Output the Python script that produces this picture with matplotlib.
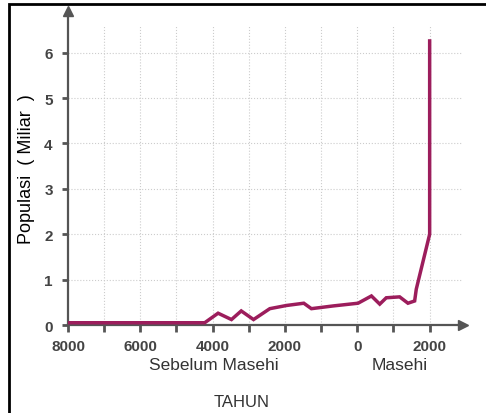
import numpy as np
import matplotlib.pyplot as plt
from matplotlib.patches import Rectangle

# tahun (negatif = Sebelum Masehi), populasi dalam miliar
tahun = [-8000, -4220, -3850, -3480, -3210, -2870, -2420, -1960, -1480, -1270,
         -670, 20, 390, 620, 800, 1170, 1400, 1585, 1630, 2000, 2000]
populasi = [0.05, 0.05, 0.26, 0.12, 0.31, 0.12, 0.36, 0.43, 0.48, 0.36,
            0.42, 0.48, 0.64, 0.46, 0.60, 0.62, 0.48, 0.53, 0.79, 2.0, 6.26]

xticks = [-8000, -6000, -4000, -2000, 0, 2000]
xticklabels = ['8000', '6000', '4000', '2000', '0', '2000']
yticks = [0, 1, 2, 3, 4, 5, 6]

plt.rcParams['font.family'] = ['Liberation Sans', 'DejaVu Sans']

fig = plt.figure(figsize=(4.86, 4.14), dpi=100)
ax = fig.add_axes([68/486, 1 - 326/414, (463 - 68)/486, (326 - 12)/414])

xmax = 2922
ymax = 6.92
ax.set_xlim(-8000, xmax)
ax.set_ylim(0, ymax)

# grid
for gx in range(-7000, 3000, 1000):
    ax.plot([gx, gx], [0, ymax - 0.3], color='#cccccc', lw=0.8, ls=':', zorder=0)
for gy in range(1, 7):
    ax.plot([-8000, xmax], [gy, gy], color='#cccccc', lw=0.8, ls=':', zorder=0)

ax.plot(tahun, populasi, color='#9c1d5c', lw=2.5, solid_joinstyle='miter', zorder=3)

for s in ['top', 'right']:
    ax.spines[s].set_visible(False)
for s in ['left', 'bottom']:
    ax.spines[s].set_color('#555555')
    ax.spines[s].set_linewidth(1.6)

# arrows
ax.plot(xmax, 0, marker='>', color='#555555', ms=7, clip_on=False, zorder=4)
ax.plot(-8000, ymax, marker='^', color='#555555', ms=7, clip_on=False, zorder=4)

ax.set_xticks(xticks)
ax.set_xticklabels(xticklabels, fontweight='bold', color='#444444', fontsize=11)
ax.set_xticks(range(-7000, 2000, 2000), minor=True)
ax.set_yticks(yticks)
ax.set_yticklabels([str(v) for v in yticks], fontweight='bold', color='#444444', fontsize=11)
ax.tick_params(axis='both', which='both', direction='out', length=5, width=2, color='#555555')
ax.tick_params(axis='x', pad=5)
ax.tick_params(axis='y', pad=7, length=4)

ax.set_ylabel('Populasi  ( Miliar  )', fontsize=13, labelpad=7)

fig.text(214/486, 1 - 366/414, 'Sebelum Masehi', ha='center', va='center', fontsize=12.5, color='#333333')
fig.text(400/486, 1 - 366/414, 'Masehi', ha='center', va='center', fontsize=12.5, color='#333333')
fig.text(242/486, 1 - 403/414, 'TAHUN', ha='center', va='center', fontsize=12, color='#333333')

fig.patches.append(Rectangle((9/486, -0.05), 1.0, 1 - 5/414 + 0.05, transform=fig.transFigure,
                             fill=False, edgecolor='black', lw=2, clip_on=False))

fig.savefig('out.png', dpi=100)
